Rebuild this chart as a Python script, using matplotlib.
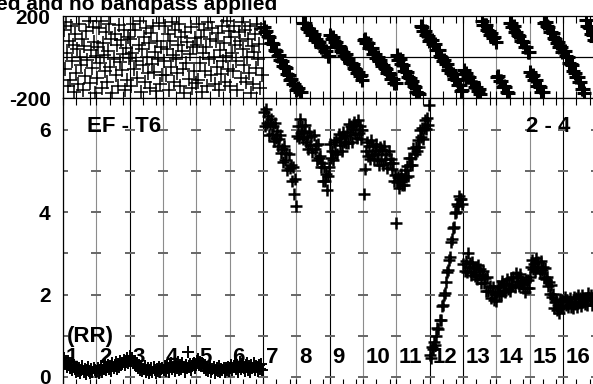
import numpy as np
import matplotlib.pyplot as plt
from matplotlib.ticker import FixedLocator

plt.rcParams['font.family'] = ['Liberation Sans', 'DejaVu Sans']
plt.rcParams['font.weight'] = 'bold'
plt.rcParams['axes.unicode_minus'] = False

# scan numbers and the time (grid units) at which each scan starts
scan_labels = [str(i) for i in range(1, 17)]
scan_start = list(range(16))

# grid lines drawn in black (others grey)
dark_lines = [2, 6, 8, 11, 12, 15]

# amplitude per scan
amp = [
    [0.45, 0.32, 0.40, 0.25, 0.38, 0.30, 0.22, 0.35, 0.18, 0.28, 0.20, 0.12, 0.25, 0.15, 0.22,
     0.10, 0.18, 0.26, 0.12, 0.20, 0.08, 0.17, 0.24, 0.14, 0.10, 0.19, 0.13, 0.22, 0.16, 0.11],
    [0.14, 0.22, 0.10, 0.18, 0.26, 0.12, 0.20, 0.28, 0.16, 0.24, 0.30, 0.19, 0.27, 0.15, 0.33,
     0.22, 0.29, 0.36, 0.20, 0.31, 0.25, 0.38, 0.28, 0.34, 0.42, 0.30, 0.37, 0.45, 0.33, 0.40],
    [0.52, 0.40, 0.46, 0.33, 0.38, 0.27, 0.31, 0.22, 0.28, 0.18, 0.24, 0.14, 0.20, 0.26, 0.12,
     0.18, 0.23, 0.10, 0.16, 0.21, 0.13, 0.25, 0.17, 0.09, 0.20, 0.15, 0.24, 0.12, 0.19, 0.22],
    [0.18, 0.26, 0.14, 0.30, 0.21, 0.12, 0.27, 0.33, 0.19, 0.24, 0.15, 0.31, 0.22, 0.36, 0.17,
     0.28, 0.20, 0.34, 0.25, 0.13, 0.29, 0.21, 0.60, 0.26, 0.32, 0.18, 0.27, 0.35, 0.22, 0.30],
    [0.38, 0.44, 0.30, 0.36, 0.27, 0.33, 0.22, 0.29, 0.18, 0.25, 0.14, 0.21, 0.27, 0.12, 0.19,
     0.24, 0.10, 0.17, 0.22, 0.15, 0.26, 0.11, 0.20, 0.16, 0.23, 0.13, 0.21, 0.18, 0.25, 0.14],
    [0.22, 0.30, 0.16, 0.27, 0.34, 0.20, 0.29, 0.13, 0.25, 0.36, 0.19, 0.31, 0.23, 0.15, 0.28,
     0.33, 0.18, 0.26, 0.12, 0.30, 0.21, 0.35, 0.17, 0.27, 0.24, 0.14, 0.29, 0.20, 0.32, 0.18],
    [6.43, 6.09, 6.51, 6.17, 6.33, 5.89, 6.14, 6.27, 5.91, 6.09, 5.74, 6.17, 5.80, 5.97, 5.61, 5.78,
     5.89, 5.45, 5.54, 5.23, 5.60, 5.26, 5.45, 5.04, 5.42, 5.07, 5.14, 4.76, 5.11, 4.45, 4.80, 4.15],
    [5.86, 6.10, 5.80, 6.27, 5.92, 6.10, 5.78, 5.98, 6.12, 5.72, 5.84, 5.55, 5.95, 5.63, 5.85, 5.46,
     5.87, 5.55, 5.64, 5.28, 5.65, 5.32, 5.38, 5.10, 5.20, 4.75, 5.10, 4.75, 4.93, 4.55, 4.88, 5.10],
    [5.67, 5.32, 5.50, 5.27, 5.72, 5.47, 5.75, 5.42, 5.90, 5.64, 5.80, 5.50, 5.95, 5.70, 5.85, 5.68,
     5.96, 5.68, 6.15, 5.88, 6.10, 5.72, 6.03, 6.20, 5.90, 6.12, 5.80, 6.25, 5.92, 6.10, 5.79, 6.00],
    [4.45, 5.05, 5.48, 5.70, 5.38, 5.62, 5.30, 5.75, 5.42, 5.60, 5.29, 5.50, 5.67, 5.28, 5.42, 5.15,
     5.58, 5.28, 5.52, 5.15, 5.60, 5.30, 5.42, 5.08, 5.50, 5.20, 5.30, 5.05, 5.20, 4.75, 4.90, 3.75],
    [4.74, 4.85, 4.58, 4.76, 4.93, 4.66, 4.82, 4.66, 5.04, 4.87, 5.12, 4.89, 5.32, 5.16, 5.33, 5.14,
     5.56, 5.41, 5.59, 5.50, 5.76, 5.58, 6.00, 5.82, 6.04, 5.78, 6.05, 6.24, 6.03, 6.28, 6.12, 6.60],
    [0.54, 0.47, 0.72, 0.68, 0.84, 0.78, 0.99, 1.18, 1.17, 1.39, 1.39, 1.72, 1.75, 1.98, 2.03, 2.30,
     2.55, 2.59, 2.84, 2.92, 3.27, 3.34, 3.61, 3.64, 3.98, 4.01, 4.19, 4.16, 4.40, 4.32, 4.32, 4.19],
    [2.74, 2.57, 2.82, 2.56, 3.00, 2.68, 2.76, 2.48, 2.80, 2.56, 2.64, 2.46, 2.64, 2.39, 2.73, 2.48,
     2.62, 2.28, 2.47, 2.58, 2.28, 2.41, 2.10, 2.42, 2.09, 2.20, 1.91, 2.06, 2.18, 1.88, 2.02, 1.85],
    [2.07, 2.22, 2.02, 2.19, 1.99, 2.33, 2.10, 2.26, 2.07, 2.25, 2.37, 2.13, 2.25, 2.08, 2.41, 2.23,
     2.42, 2.19, 2.52, 2.33, 2.43, 2.21, 2.49, 2.27, 2.34, 2.17, 2.31, 2.07, 2.36, 2.16, 2.35, 2.17],
    [2.42, 2.66, 2.83, 2.62, 2.75, 2.58, 2.88, 2.66, 2.80, 2.52, 2.81, 2.60, 2.67, 2.41, 2.64, 2.39,
     2.44, 2.22, 2.31, 2.01, 2.24, 1.94, 2.02, 1.68, 1.82, 1.88, 1.62, 1.75, 1.55, 1.90, 1.70, 1.88],
    [1.67, 1.95, 1.75, 1.87, 1.69, 1.83, 1.93, 1.71, 1.83, 1.68, 1.94, 1.77, 1.92, 1.71, 1.98, 1.81,
     1.92, 1.73, 1.98, 1.81, 1.89, 1.77, 1.92, 1.74, 2.05, 1.87, 1.99, 1.75, 1.92, 2.02, 1.83, 1.96],
]

# phase (degrees, unwrapped) per scan
phase = [
    [130, -60, 170, 20, -140, 80, -110, 150, -20, 60, -170, 110, -80, 40, -130, 160,
     0, -40, 90, -160, 55, -95, 125, -15, 175, -125, 35, -55, 145, 75, -175, 5],
    [-100, 50, 140, -30, 175, -150, 70, 10, -70, 120, -120, 30, 160, -50, 90, -175,
     -10, 110, -90, 60, -140, 155, -25, 85, -65, 15, 130, -160, 45, -110, 100, -5],
    [90, -140, 20, 160, -60, 130, -20, -100, 60, 175, -170, 40, -40, 100, -120, 140,
     0, -80, 70, -150, 115, -35, 150, -75, 25, -165, 80, -10, 165, -130, 50, -90],
    [-20, 150, -90, 40, 110, -160, 80, -50, 170, 10, -120, 130, -10, -80, 60, 160,
     -140, 100, 30, -60, -175, 120, -30, 75, -105, 15, 145, -150, 50, -70, 95, -125],
    [60, -110, 160, -30, 100, -170, 20, 130, -70, 50, -140, 170, -10, 90, -90, 140,
     0, -130, 80, -50, 115, -160, 35, -85, 150, -20, 70, -120, 5, 175, -60, 125],
    [-140, 100, 20, -70, 150, 60, -20, -160, 120, 80, -100, 170, 40, -40, 130, -120,
     0, 90, -80, 150, -175, 55, -130, 25, 110, -55, 160, -10, 65, -150, 135, -90],
    [147, 123, 126, 102, 98, 69, 68, 61, 36, 31, 6, 12, -13, -18, -44, -48,
     -53, -81, -87, -110, -106, -130, -133, -160],
    [-155, -151, -170, -171, -195, -192, -194, -219, -221, -239, -233, -252, -249, -277, -272, -286,
     -287, -309, -309, -311, -333, -333, -356, -353],
    [109, 89, 96, 75, 74, 49, 52, 49, 27, 26, 5, 15, -7, -9, -31, -31,
     -32, -56, -59, -78, -71, -91, -90, -113],
    [85, 88, 69, 67, 43, 45, 43, 17, 14, -4, 1, -18, -16, -44, -40, -55,
     -57, -80, -80, -83, -105, -106, -129, -127],
    [9, -14, -10, -34, -38, -66, -66, -72, -97, -101, -125, -118, -143, -148, -173, -176,
     -180, -207, -213, -235, -231, -254, -256, -282],
    [83, 85, 64, 61, 35, 36, 32, 5, 1, -19, -15, -36, -35, -65, -63, -79,
     -83, -107, -109, -113, -137, -139, -164, -163],
    [-63, -83, -76, -98, -98, -123, -120, -124, -146, -147, -168, -158, -180, -182, -204, -204,
     -206, -230, -233, -252, -244, -265, -264, -287],
    [-97, -95, -115, -118, -144, -142, -146, -173, -176, -196, -192, -212, -211, -240, -237, -253,
     -256, -280, -282, -285, -309, -311, -335, -334],
    [-73, -95, -90, -113, -114, -141, -140, -145, -169, -172, -195, -187, -209, -213, -237, -239,
     -242, -268, -273, -294, -287, -309, -310, -335],
    [28, 27, 4, -2, -31, -33, -39, -69, -76, -99, -97, -121, -123, -156, -155, -174,
     -181, -208, -212, -219, -246, -251, -278, -280],
]

W, H = 593, 384
fig = plt.figure(figsize=(W / 100, H / 100), dpi=100)
ax_ph = fig.add_axes([63 / W, 1 - 98 / H, 543.3 / W, 82 / H])
ax_amp = fig.add_axes([63 / W, 1 - 386 / H, 543.3 / W, 288 / H])

for k in range(16):
    # scans 1-6 are noise: thinner crosses so the hatch texture shows
    noisy = k < 6
    n = len(amp[k])
    t = scan_start[k] + (np.arange(n) + 0.5) / n
    ax_amp.plot(t, amp[k], '+', ms=9, mew=1.4 if noisy else 1.8, color='k', zorder=3)
    n = len(phase[k])
    t = scan_start[k] + (np.arange(n) + 0.5) / n
    wrapped = (np.array(phase[k]) + 180) % 360 - 180
    ax_ph.plot(t, wrapped, '+', ms=10, mew=1.1 if noisy else 2.2, color='k', zorder=3)

for ax in (ax_ph, ax_amp):
    for k in range(17):
        c = 'k' if k in dark_lines else '#8c8c8c'
        ax.axvline(k, color=c, lw=0.8, zorder=1)
    ax.set_xlim(0, 16.3)
    ax.xaxis.set_major_locator(FixedLocator(range(17)))
    ax.xaxis.set_minor_locator(FixedLocator([k + f for k in range(17) for f in (0.4, 0.8)]))
    ax.tick_params(axis='x', which='both', direction='in', top=True, bottom=True,
                   labelbottom=False, length=5, width=0.8)
    ax.tick_params(axis='y', length=0, pad=9, labelsize=15)
    for s in ax.spines.values():
        s.set_linewidth(0.9)

ax_ph.set_ylim(-200, 200)
ax_ph.set_yticks([-200, 200])
ax_ph.axhline(0, color='k', lw=0.9, zorder=1)

ax_amp.set_ylim(-0.219, 6.777)
ax_amp.set_yticks([0, 2, 4, 6])
gx, gy = np.meshgrid(np.arange(17), np.arange(7))
ax_amp.plot(gx.ravel(), gy.ravel(), '_', ms=7, mew=1.4, color='#666666', zorder=1)

for k in range(16):
    ax_amp.text(scan_start[k] + 0.08, 0.34, scan_labels[k], fontsize=16, fontweight='bold', zorder=4)
ax_amp.text(0.12, 0.85, '(RR)', fontsize=16, fontweight='bold', zorder=4)
ax_amp.text(0.72, 5.95, 'EF - T6', fontsize=16, fontweight='bold')
ax_amp.text(13.89, 5.95, '2 - 4', fontsize=16, fontweight='bold')

fig.text(277 / W, 1 - 10 / H, 'ed and no bandpass applied', ha='right', va='baseline',
         fontsize=15, fontweight='bold')

fig.savefig('out.png', dpi=100)
